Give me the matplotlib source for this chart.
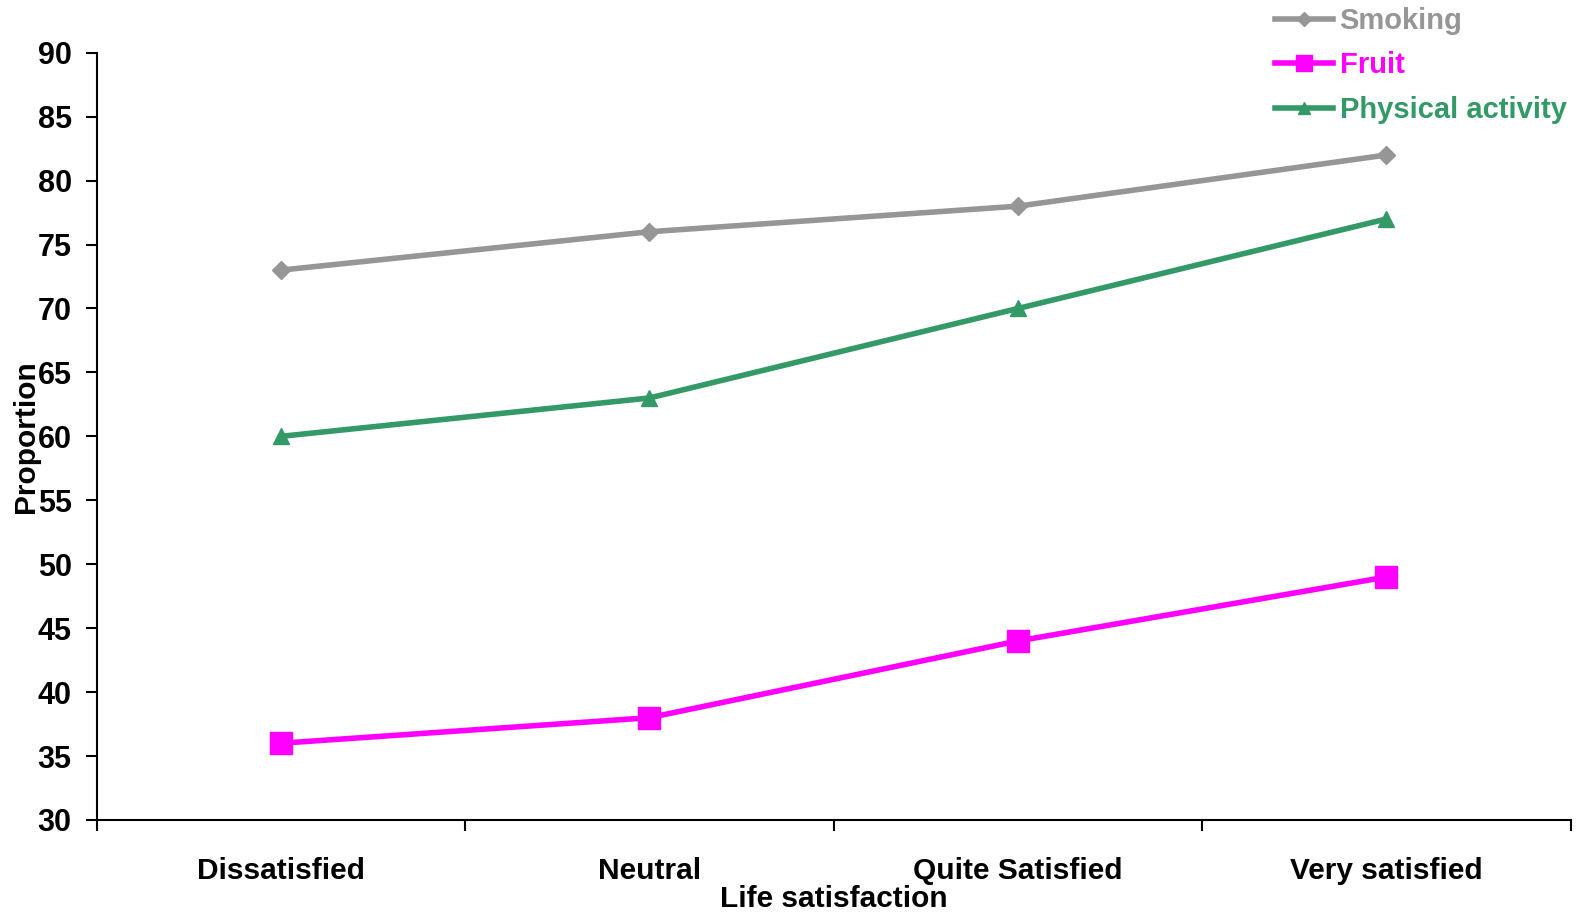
import matplotlib
matplotlib.use("Agg")
import matplotlib.pyplot as plt
from matplotlib.lines import Line2D

categories = ["Dissatisfied", "Neutral", "Quite Satisfied", "Very satisfied"]
smoking = [73, 76, 78, 82]
fruit = [36, 38, 44, 49]
physical = [60, 63, 70, 77]
yticks = [30, 35, 40, 45, 50, 55, 60, 65, 70, 75, 80, 85, 90]

plt.rcParams["font.family"] = ["Liberation Sans", "DejaVu Sans"]
plt.rcParams["font.weight"] = "bold"

fig = plt.figure(figsize=(15.79, 9.17), dpi=100)
ax = fig.add_axes([0.0612, 0.1058, 0.9335, 0.8367])

x = list(range(len(categories)))
c_smk, c_fru, c_phy = "#969696", "#FF00FF", "#339966"

ax.plot(x, smoking, color=c_smk, lw=4, marker="D", ms=9, mec=c_smk, mfc=c_smk,
        label="Smoking")
ax.plot(x, fruit, color=c_fru, lw=4, marker="s", ms=16, mec=c_fru, mfc=c_fru,
        label="Fruit")
ax.plot(x, physical, color=c_phy, lw=4, marker="^", ms=11, mec=c_phy, mfc=c_phy,
        label="Physical activity")

ax.set_xlim(-0.5, len(categories) - 0.5)
ax.set_ylim(30, 90)
ax.set_yticks(yticks)
ax.set_yticklabels([str(v) for v in yticks], fontsize=22, fontweight="bold")

# category boundary ticks with labels centred between them
ax.set_xticks([i - 0.5 for i in range(len(categories) + 1)])
ax.set_xticklabels([])
ax.set_xticks(x, minor=True)
ax.set_xticklabels(categories, minor=True, fontsize=21.5, fontweight="bold")
ax.tick_params(axis="x", which="minor", length=0, pad=27)
ax.tick_params(axis="x", which="major", length=8, width=1.5, direction="out")
ax.tick_params(axis="y", length=8, width=1.5, direction="out", pad=10)

for s in ["top", "right"]:
    ax.spines[s].set_visible(False)
for s in ["left", "bottom"]:
    ax.spines[s].set_linewidth(1.5)

ax.set_xlabel("Life satisfaction", fontsize=21.5, fontweight="bold", labelpad=0)
ax.set_ylabel("Proportion", fontsize=21.5, fontweight="bold", labelpad=-2)

handles = [
    Line2D([], [], color=c_smk, lw=4, marker="D", ms=7),
    Line2D([], [], color=c_fru, lw=4, marker="s", ms=11),
    Line2D([], [], color=c_phy, lw=4, marker="^", ms=9),
]
leg = fig.legend(handles, ["Smoking", "Fruit", "Physical activity"],
                 loc="upper left", bbox_to_anchor=(0.800, 1.005), frameon=False,
                 prop={"size": 21, "weight": "bold"}, handlelength=2.0,
                 handletextpad=0.22, labelspacing=0.56, borderaxespad=0)
for txt, c in zip(leg.get_texts(), [c_smk, c_fru, c_phy]):
    txt.set_color(c)

fig.savefig("out.png", dpi=100)
